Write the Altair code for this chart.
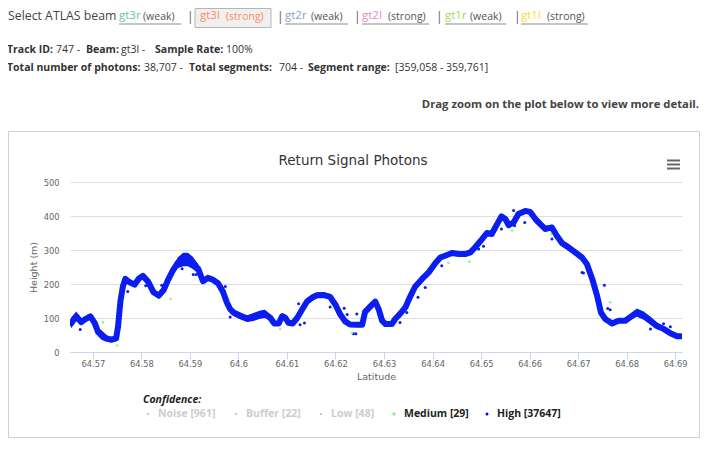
import altair as alt
import pandas as pd

# ---------------- data ----------------
LAT = [64.5655, 64.5666, 64.5676, 64.5683, 64.5695, 64.5704, 64.5711, 64.5718, 64.5728, 64.5738,
       64.5748, 64.5752, 64.5757, 64.5762, 64.5767, 64.5776, 64.5786, 64.5795, 64.5803, 64.5814,
       64.5825, 64.5836, 64.5846, 64.5855, 64.5865, 64.5875, 64.5886, 64.5896, 64.5906, 64.5917,
       64.5927, 64.5937, 64.5948, 64.5958, 64.5968, 64.5976, 64.5983, 64.5990, 64.6004, 64.6018,
       64.6031, 64.6045, 64.6055, 64.6066, 64.6074, 64.6083, 64.6090, 64.6097, 64.6103, 64.6112,
       64.6121, 64.6131, 64.6141, 64.6152, 64.6162, 64.6175, 64.6189, 64.6200, 64.6210, 64.6220,
       64.6230, 64.6244, 64.6255, 64.6261, 64.6272, 64.6282, 64.6289, 64.6296, 64.6303, 64.6316,
       64.6323, 64.6333, 64.6344, 64.6354, 64.6364, 64.6378, 64.6392, 64.6406, 64.6416, 64.6426,
       64.6440, 64.6454, 64.6467, 64.6478, 64.6488, 64.6502, 64.6512, 64.6522, 64.6533, 64.6542,
       64.6550, 64.6557, 64.6567, 64.6577, 64.6591, 64.6601, 64.6612, 64.6622, 64.6632, 64.6646,
       64.6656, 64.6667, 64.6680, 64.6694, 64.6708, 64.6718, 64.6729, 64.6739, 64.6747, 64.6756,
       64.6770, 64.6783, 64.6797, 64.6807, 64.6821, 64.6835, 64.6849, 64.6862, 64.6876, 64.6890,
       64.6904, 64.6912]
HEIGHT = [85, 105, 88, 95, 105, 85, 58, 50, 40, 36,
          40, 75, 150, 193, 215, 205, 198, 216, 224, 207,
          176, 166, 182, 212, 240, 262, 272, 272, 262, 245,
          208, 218, 212, 202, 178, 146, 126, 116, 106, 98,
          103, 110, 112, 100, 84, 84, 105, 100, 86, 84,
          100, 124, 148, 160, 167, 168, 162, 139, 110, 90,
          81, 80, 80, 118, 134, 148, 126, 92, 82, 82,
          97, 112, 131, 163, 192, 214, 234, 262, 278, 283,
          291, 288, 288, 293, 308, 332, 350, 347, 376, 399,
          391, 373, 381, 406, 415, 412, 391, 376, 362, 366,
          342, 320, 308, 293, 278, 259, 215, 166, 116, 97,
          84, 92, 92, 102, 116, 107, 92, 77, 68, 55,
          46, 46]
# half-thickness of the photon band around the centre line (m)
BAND = [16, 14, 10, 8, 8, 8, 12, 14, 10, 6,
        8, 8, 8, 8, 8, 8, 6, 8, 8, 8,
        8, 10, 10, 10, 12, 16, 20, 20, 18, 14,
        8, 6, 6, 6, 6, 8, 10, 10, 10, 10,
        12, 12, 12, 8, 6, 6, 10, 10, 8, 6,
        6, 8, 10, 10, 8, 8, 8, 6, 6, 6,
        4, 4, 4, 10, 12, 6, 6, 6, 4, 4,
        6, 8, 8, 8, 8, 8, 8, 8, 6, 6,
        6, 4, 4, 6, 6, 6, 6, 6, 6, 6,
        6, 6, 6, 6, 6, 6, 6, 8, 8, 8,
        8, 10, 10, 10, 10, 10, 10, 8, 8, 8,
        8, 6, 6, 8, 12, 12, 12, 10, 8, 6,
        4, 4]

OUT_LAT = [64.5674, 64.5772, 64.5809, 64.5842, 64.5884, 64.5907, 64.5913, 64.5973, 64.5983, 64.6124,
           64.6127, 64.6136, 64.6189, 64.6218, 64.6224, 64.6244, 64.6237, 64.6242, 64.6333, 64.6347,
           64.6370, 64.6385, 64.6419, 64.6495, 64.6505, 64.6542, 64.6567, 64.6590, 64.6569, 64.6646,
           64.6708, 64.6711, 64.6729, 64.6754, 64.6761, 64.6766, 64.6849, 64.6876, 64.6890]
OUT_H = [66, 178, 195, 196, 245, 228, 228, 193, 103, 142,
         80, 85, 132, 129, 110, 112, 54, 54, 87, 116,
         161, 190, 254, 303, 311, 362, 416, 381, 371, 332,
         234, 232, 211, 196, 128, 124, 68, 83, 74]

MED_LAT = [64.5721, 64.5750, 64.5860, 64.6086, 64.6234, 64.6433, 64.6476, 64.6564, 64.6644, 64.6766]
MED_H = [87, 19, 156, 68, 56, 262, 266, 357, 347, 146]

X_TICKS = [64.57, 64.58, 64.59, 64.60, 64.61, 64.62, 64.63, 64.64, 64.65, 64.66, 64.67, 64.68, 64.69]
Y_TICKS = [0, 100, 200, 300, 400, 500]
X_DOMAIN = [64.5653, 64.6914]
Y_DOMAIN = [0, 500]

CONF_NAMES = ["Noise", "Buffer", "Low", "Medium", "High"]
CONF_COUNTS = [961, 22, 48, 29, 37647]
CONF_SHOWN = [False, False, False, True, True]

BEAMS = ["gt3r", "gt3l", "gt2r", "gt2l", "gt1r", "gt1l"]
BEAM_KIND = ["weak", "strong", "weak", "strong", "weak", "strong"]
SELECTED = "gt3l"
TRACK_ID = 747
SAMPLE_RATE = "100%"
TOTAL_PHOTONS = 38707
TOTAL_SEGMENTS = 704
SEG_RANGE = [359058, 359761]

# ---------------- styles / layout ----------------
BEAM_COLORS = ["#66c2a5", "#fc8d62", "#8da0cb", "#e78ac3", "#a6d854", "#ffd92f"]
BLUE = "#0a1ef0"
GREEN = "#90ee90"
OX, OY = 70, 182          # page position of plot origin
W, H = 612, 170
SVG_W, SVG_H = 692, 430
SH = 6                    # header shift (page margin)
R1 = 16                   # header row 1 centre line

def T(s, X, Y, size=10.5, color="#333333", weight="normal", align="left",
      font="Open Sans", italic=False):
    kw = dict(align=align, baseline="middle", fontSize=size, font=font,
              fontWeight=weight, color=color)
    if italic:
        kw["fontStyle"] = "italic"
    return alt.Chart(pd.DataFrame({"t": [s]})).mark_text(**kw).encode(
        text="t:N", x=alt.value(X - OX), y=alt.value(Y - OY))

def RULE(x1, y1, x2, y2, color, w=1):
    return alt.Chart(pd.DataFrame({"a": [0]})).mark_rule(color=color, strokeWidth=w).encode(
        x=alt.value(x1 - OX), x2=alt.value(x2 - OX), y=alt.value(y1 - OY), y2=alt.value(y2 - OY))

def RECT(x1, y1, x2, y2, fill, stroke, w=1, fill_opacity=1):
    return alt.Chart(pd.DataFrame({"a": [0]})).mark_rect(
        fill=fill, fillOpacity=fill_opacity, stroke=stroke, strokeWidth=w).encode(
        x=alt.value(x1 - OX), x2=alt.value(x2 - OX), y=alt.value(y1 - OY), y2=alt.value(y2 - OY))

def DOT(X, Y, color, shape="circle", size=9):
    return alt.Chart(pd.DataFrame({"a": [0]})).mark_point(filled=True, shape=shape, size=size,
                                                          color=color, opacity=1).encode(
        x=alt.value(X - OX), y=alt.value(Y - OY))

layers = []
# outer chart box (transparent fill so the axes stay visible)
layers.append(RECT(8.5, 131.5, 699.5, 437.5, "#ffffff", "#d0d0d0", 1, 0))

# ----- header row 1 -----
layers.append(T("Select ATLAS beam", 8, R1, size=12.3, color="#444444"))
BEAM_X = [119, 200, 285, 362, 445, 521]
KIND_X = [143, 226, 311, 388, 470, 547]
LINE_END = [181, 265, 348, 429, 506, 588]
SEP_X = [187, 277, 354, 436, 514]
sel = BEAMS.index(SELECTED)
layers.append(RECT(195, 8.5, 271, 27.5, "#f0f0f0", "#b5b5b5"))
for i, b in enumerate(BEAMS):
    kc = BEAM_COLORS[i] if i == sel else "#555555"
    layers.append(T(b, BEAM_X[i], R1, size=11.5, color=BEAM_COLORS[i]))
    layers.append(T("(" + BEAM_KIND[i] + ")", KIND_X[i], R1 + 1, size=10.5, color=kc))
    if i != sel:
        layers.append(RULE(BEAM_X[i], R1 + 8, LINE_END[i], R1 + 8, "#8a8a8a", 1))
for x in SEP_X:
    layers.append(T("|", x, R1 + 0.5, size=12, color="#555555"))

# ----- header rows 2, 3 -----
r2 = [("Track ID:", 1, True), (f"{TRACK_ID} -", 50, False), ("Beam:", 80, True),
      (f"{SELECTED} -", 115, False), ("Sample Rate:", 149, True), (SAMPLE_RATE, 220, False)]
for s, x, b in r2:
    layers.append(T(s, x + SH, 50, size=10.5, weight="bold" if b else "normal", color="#333333"))
r3 = [("Total number of photons:", 1, True), (f"{TOTAL_PHOTONS:,} -", 138, False),
      ("Total segments:", 183, True), (f"{TOTAL_SEGMENTS} -", 273, False),
      ("Segment range:", 302, True), (f"[{SEG_RANGE[0]:,} - {SEG_RANGE[1]:,}]", 389, False)]
for s, x, b in r3:
    layers.append(T(s, x + SH, 68, size=10.5, weight="bold" if b else "normal", color="#333333"))
layers.append(T("Drag zoom on the plot below to view more detail.", 699, 105, size=11.3,
                weight="bold", color="#444444", align="right"))

# ----- chart title and menu icon -----
layers.append(T("Return Signal Photons", 353, 161, size=13.5, color="#333333",
                font="DejaVu Sans", align="center"))
for yy in [160.5, 164.5, 168.5]:
    layers.append(RULE(667, yy, 680, yy, "#666666", 2))

# ----- photon data -----
prof = pd.DataFrame({"lat": LAT, "h": HEIGHT, "band": BAND})
prof["lo"] = prof["h"] - prof["band"]
prof["hi"] = prof["h"] + prof["band"]

xscale = alt.Scale(domain=X_DOMAIN, nice=False, zero=False)
yscale = alt.Scale(domain=Y_DOMAIN, nice=False)
xaxis = alt.Axis(values=X_TICKS, format=".2~f", title="Latitude", grid=False,
                 domainColor="#ccd6eb", tickColor="#ccd6eb", tickSize=7, labelPadding=0,
                 labelFont="DejaVu Sans", labelFontSize=8.3, labelColor="#666666",
                 titleFont="DejaVu Sans", titleFontSize=9.5, titleColor="#666666",
                 titleFontWeight="normal", titleY=24, titleBaseline="middle",
                 labelFlush=False, labelOverlap=False)
yaxis = alt.Axis(values=Y_TICKS, format="d", title="Height (m)", grid=True, gridColor="#dedede",
                 domain=False, ticks=False, labelPadding=11, labelFont="DejaVu Sans",
                 labelFontSize=8.3, labelColor="#666666", titleFont="DejaVu Sans",
                 titleFontSize=9.5, titleColor="#666666", titleFontWeight="normal",
                 titleAngle=270, titleX=-37, titleY=H / 2, titleAlign="center",
                 titleBaseline="middle", labelOffset=1, labelOverlap=False, labelFlush=False)

X = alt.X("lat:Q", scale=xscale, axis=xaxis, title="Latitude")
band = alt.Chart(prof).mark_area(color=BLUE, clip=True).encode(
    x=X, y=alt.Y("lo:Q", scale=yscale, axis=yaxis, title="Height (m)"), y2="hi:Q")
line = alt.Chart(prof).mark_line(color=BLUE, strokeWidth=6, strokeCap="round",
                                 strokeJoin="round", clip=True).encode(
    x=X, y=alt.Y("h:Q", scale=yscale, axis=yaxis, title="Height (m)"))
outl = alt.Chart(pd.DataFrame({"lat": OUT_LAT, "h": OUT_H})).mark_circle(
    color=BLUE, size=9, opacity=1).encode(
    x=X, y=alt.Y("h:Q", scale=yscale, axis=yaxis, title="Height (m)"))
med = alt.Chart(pd.DataFrame({"lat": MED_LAT, "h": MED_H})).mark_circle(
    color=GREEN, size=7, opacity=0.9).encode(
    x=X, y=alt.Y("h:Q", scale=yscale, axis=yaxis, title="Height (m)"))
layers += [band, line, outl, med]

# ----- legend -----
layers.append(T("Confidence:", 143, 400, size=10.5, weight="bold", italic=True, color="#222222"))
MARK_X = [148, 236, 321, 394, 487]
TEXT_X = [158, 246, 331, 404, 497]
MARK_COL = ["#cccccc", "#cccccc", "#cccccc", GREEN, "#0000ff"]
for i, n in enumerate(CONF_NAMES):
    shown = CONF_SHOWN[i]
    layers.append(DOT(MARK_X[i], 414, MARK_COL[i], shape="square" if n == "Medium" else "circle",
                      size=9 if shown else 7))
    layers.append(T(f"{n} [{CONF_COUNTS[i]}]", TEXT_X[i], 414, size=10.5, weight="bold",
                    color="#222222" if shown else "#cccccc"))

chart = alt.layer(*layers).properties(
    width=W, height=H,
    padding={"left": OX - 8, "top": OY - 8, "right": SVG_W - (OX - 8) - W,
             "bottom": SVG_H - (OY - 8) - H},
    autosize=alt.AutoSizeParams(type="none"),
).configure_view(stroke=None)

chart.save("out.html", embed_options={"renderer": "svg", "actions": False})
